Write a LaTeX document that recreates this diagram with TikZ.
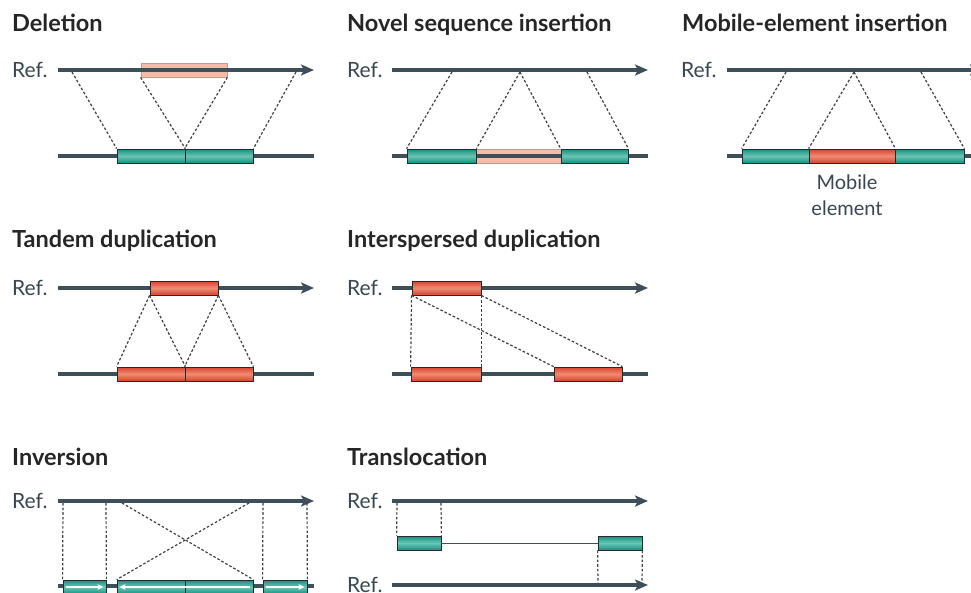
\documentclass[tikz,border=0pt]{standalone}
\usepackage{fontspec}
\setmainfont{Lato}
\usetikzlibrary{arrows.meta}
\definecolor{dk}{HTML}{3E4F5A}
\definecolor{tealA}{HTML}{13917F}
\definecolor{tealB}{HTML}{6CC4B4}
\definecolor{redA}{HTML}{D9432E}
\definecolor{redB}{HTML}{EF8A73}
\definecolor{pinkA}{HTML}{F6BBA6}
\definecolor{pinkB}{HTML}{BE9E93}
\definecolor{boxedge}{HTML}{1E2E30}
\definecolor{dashc}{HTML}{404040}
\tikzset{
  reflineA/.style={line width=3.5pt,draw=dk,-{Stealth[length=13pt,width=11pt,inset=3pt]}},
  chrom/.style={line width=3.5pt,draw=dk},
  boxbase/.style={rectangle,inner sep=0pt,minimum height=14pt,line width=0.8pt,draw=boxedge},
  tealbox/.style={boxbase,top color=tealA,bottom color=tealA,middle color=tealB},
  redbox/.style={boxbase,top color=redA,bottom color=redA,middle color=redB},
  pinkbox/.style={boxbase,draw=pinkB,fill=pinkA},
  conn/.style={draw=dashc,line width=1.2pt,dash pattern=on 2.6pt off 2pt},
  ttl/.style={anchor=base west,inner sep=0pt,font=\bfseries\fontsize{23.5}{26}\selectfont,text=black!85},
  reflbl/.style={anchor=base west,font=\fontsize{21}{24}\selectfont,text=dk!90!black,inner sep=0pt},
  wharrow/.style={draw=white,line width=1.2pt,-{Stealth[length=6pt,width=6pt]}}
}
\begin{document}
\begin{tikzpicture}[x=1pt,y=-1pt]
\useasboundingbox (0,0) rectangle (971,592);
\clip (0,0) rectangle (971,592);
% ---------------- Deletion
\node[ttl] (t1) at (12,31) {Deletion};
\node[reflbl] (r1) at (12,77) {Ref.};
\node[pinkbox,minimum width=86pt] (dp) at (184,70) {};
\coordinate (d0) at (58,70); \coordinate (d9) at (314,70);
\draw[reflineA] (d0) -- (d9);
\coordinate (e0) at (58,156); \coordinate (e9) at (314,156);
\draw[chrom] (e0) -- (e9);
\node[tealbox,minimum width=68pt] (db1) at (151,156) {};
\node[tealbox,minimum width=68pt] (db2) at (219,156) {};
\coordinate (dA) at (72,72); \coordinate (dB) at (296,72);
\draw[conn] (dA) -- (db1.north west);
\draw[conn] (dp.south west) -- (db1.north east);
\draw[conn] (dp.south east) -- (db2.north west);
\draw[conn] (dB) -- (db2.north east);
% ---------------- Novel sequence insertion
\node[ttl] (t2) at (347,31) {Novel sequence insertion};
\node[reflbl] (r2) at (347,77) {Ref.};
\coordinate (n0) at (392,70); \coordinate (n9) at (648,70);
\draw[reflineA] (n0) -- (n9);
\node[pinkbox,minimum width=85pt] (np) at (518.5,156) {};
\coordinate (m0) at (392,156); \coordinate (m9) at (648,156);
\draw[chrom] (m0) -- (m9);
\node[tealbox,minimum width=69pt] (nb1) at (441.5,156) {};
\node[tealbox,minimum width=67pt] (nb2) at (594.5,156) {};
\coordinate (nA) at (452,72); \coordinate (nB) at (520,72); \coordinate (nC) at (587,72);
\draw[conn] (nA) -- (nb1.north west);
\draw[conn] (nB) -- (nb1.north east);
\draw[conn] (nB) -- (nb2.north west);
\draw[conn] (nC) -- (nb2.north east);
% ---------------- Mobile-element insertion
\node[ttl] (t3) at (682,31) {Mobile-element insertion};
\node[reflbl] (r3) at (681,77) {Ref.};
\coordinate (o0) at (727,70); \coordinate (o9) at (983,70);
\draw[reflineA] (o0) -- (o9);
\coordinate (p0) at (727,156); \coordinate (p9) at (980,156);
\draw[chrom] (p0) -- (p9);
\node[tealbox,minimum width=67pt] (mb1) at (775.5,156) {};
\node[redbox,minimum width=86pt] (mr) at (852,156) {};
\node[tealbox,minimum width=69pt] (mb2) at (929.5,156) {};
\coordinate (mA) at (786,72); \coordinate (mB) at (854,72); \coordinate (mC) at (921,72);
\draw[conn] (mA) -- (mb1.north west);
\draw[conn] (mB) -- (mr.north west);
\draw[conn] (mB) -- (mr.north east);
\draw[conn] (mC) -- (mb2.north east);
\node[font=\fontsize{20}{26}\selectfont,text=dk!90!black,align=center,anchor=north,inner sep=0pt] (ml) at (847,174.5) {Mobile\\element};
% ---------------- Tandem duplication
\node[ttl] (t4) at (12,247) {Tandem duplication};
\node[reflbl] (r4) at (12,295.5) {Ref.};
\coordinate (a0) at (58,288); \coordinate (a9) at (314,288);
\draw[reflineA] (a0) -- (a9);
\node[redbox,minimum width=68pt] (tr) at (184,288) {};
\coordinate (b0) at (58,374); \coordinate (b9) at (314,374);
\draw[chrom] (b0) -- (b9);
\node[redbox,minimum width=68pt] (tb1) at (151,374) {};
\node[redbox,minimum width=68pt] (tb2) at (219,374) {};
\draw[conn] (tr.south west) -- (tb1.north west);
\draw[conn] (tr.south west) -- (tb1.north east);
\draw[conn] (tr.south east) -- (tb2.north west);
\draw[conn] (tr.south east) -- (tb2.north east);
% ---------------- Interspersed duplication
\node[ttl] (t5) at (347,247) {Interspersed duplication};
\node[reflbl] (r5) at (347,295.5) {Ref.};
\coordinate (f0) at (392,288); \coordinate (f9) at (648,288);
\draw[reflineA] (f0) -- (f9);
\node[redbox,minimum width=69pt] (ir) at (446.5,288) {};
\coordinate (g0) at (392,374); \coordinate (g9) at (648,374);
\draw[chrom] (g0) -- (g9);
\node[redbox,minimum width=70pt] (ib1) at (446,374) {};
\node[redbox,minimum width=68pt] (ib2) at (588,374) {};
\draw[conn] (ir.south west) -- (ib1.north west);
\draw[conn] (ir.south east) -- (ib1.north east);
\draw[conn] (ir.south west) -- (ib2.north west);
\draw[conn] (ir.south east) -- (ib2.north east);
% ---------------- Inversion
\node[ttl] (t6) at (12,465) {Inversion};
\node[reflbl] (r6) at (12,508.5) {Ref.};
\coordinate (h0) at (58,501); \coordinate (h9) at (314,501);
\draw[reflineA] (h0) -- (h9);
\coordinate (k0) at (58,586); \coordinate (k9) at (314,586);
\draw[chrom] (k0) -- (k9);
\node[tealbox,minimum width=43pt] (vb1) at (84.5,587) {};
\node[tealbox,minimum width=68pt] (vb2) at (151,587) {};
\node[tealbox,minimum width=68pt] (vb3) at (219,587) {};
\node[tealbox,minimum width=44pt] (vb4) at (285,587) {};
\draw[wharrow] ([xshift=3pt]vb1.west) -- ([xshift=-3pt]vb1.east);
\draw[wharrow] ([xshift=-3pt]vb3.east) -- ([xshift=3pt]vb2.west);
\draw[wharrow] ([xshift=3pt]vb4.west) -- ([xshift=-3pt]vb4.east);
\coordinate (vA) at (63,503); \coordinate (vB) at (106,503);
\coordinate (vC) at (122,503); \coordinate (vD) at (249,503);
\coordinate (vE) at (263,503); \coordinate (vF) at (307,503);
\draw[conn] (vA) -- (vb1.north west);
\draw[conn] (vB) -- (vb1.north east);
\draw[conn] (vC) -- (vb3.north east);
\draw[conn] (vD) -- (vb2.north west);
\draw[conn] (vE) -- (vb4.north west);
\draw[conn] (vF) -- (vb4.north east);
% ---------------- Translocation
\node[ttl] (t7) at (347,465) {Translocation};
\node[reflbl] (r7) at (347,508.5) {Ref.};
\coordinate (s0) at (392,501); \coordinate (s9) at (648,501);
\draw[reflineA] (s0) -- (s9);
\node[tealbox,minimum width=44pt] (sb1) at (419,543) {};
\node[tealbox,minimum width=44pt] (sb2) at (620,543) {};
\draw[draw=dk,line width=0.8pt] (sb1.east) -- (sb2.west);
\node[reflbl] (r8) at (347,592.5) {Ref.};
\coordinate (u0) at (392,585); \coordinate (u9) at (648,585);
\draw[reflineA] (u0) -- (u9);
\coordinate (sA) at (397,503); \coordinate (sB) at (441,503);
\coordinate (sC) at (598,583); \coordinate (sD) at (642,583);
\draw[conn] (sA) -- (sb1.north west);
\draw[conn] (sB) -- (sb1.north east);
\draw[conn] (sb2.south west) -- (sC);
\draw[conn] (sb2.south east) -- (sD);
\end{tikzpicture}
\end{document}
